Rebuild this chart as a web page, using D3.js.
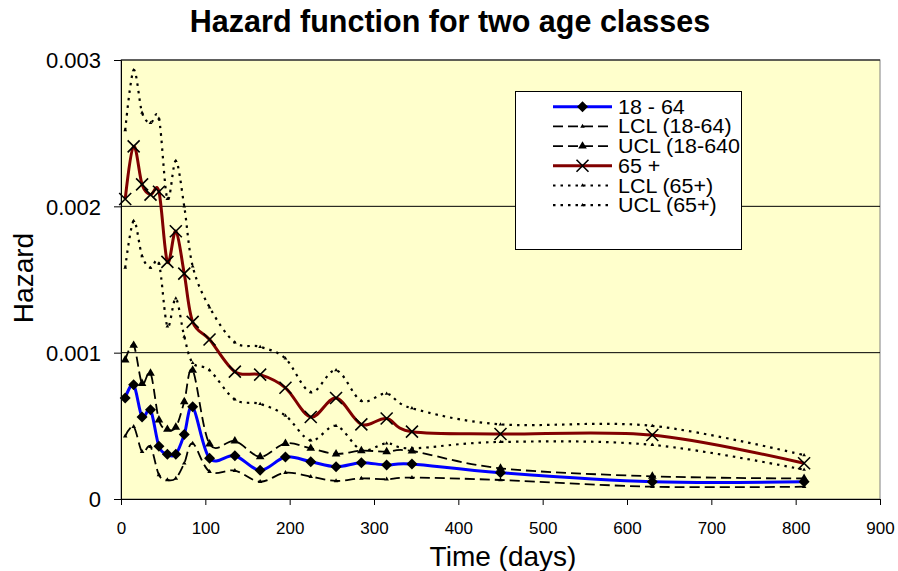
<!DOCTYPE html>
<html><head><meta charset="utf-8">
<script src="https://cdn.jsdelivr.net/npm/d3@7"></script>
<style>body{margin:0;background:#fff} text{font-family:Arial,"Liberation Sans",sans-serif;fill:#000}</style>
</head><body><svg id="c" width="898" height="571"></svg>
<script>
const days = [5,15,25,35,45,55,65,75,85,105,135,165,195,225,255,285,315,345,450,630,810];
const age1864 = [0.00069,0.00078,0.00056,0.00061,0.00036,0.000305,0.000305,0.00044,0.00063,0.000278,0.000296,0.000196,0.000287,0.000255,0.000221,0.000248,0.000232,0.000239,0.00018,0.000118,0.000118];
const lcl1864 = [0.00043,0.000494,0.000323,0.000357,0.000164,0.00013,0.000141,0.000244,0.00038,0.000187,0.000194,0.000118,0.00018,0.000153,0.000123,0.000141,0.000135,0.000146,0.00013,0.000084,0.000084];
const ucl1864 = [0.00095,0.00105,0.00079,0.00086,0.00054,0.000476,0.00049,0.000665,0.00088,0.000376,0.000396,0.000289,0.00038,0.000346,0.000308,0.00033,0.000323,0.000328,0.00021,0.000155,0.00014];
const age65 = [0.00205,0.00241,0.00215,0.00208,0.0021,0.00162,0.00183,0.00154,0.00121,0.00109,0.00087,0.00085,0.00076,0.00056,0.00069,0.00051,0.00055,0.00046,0.000444,0.000437,0.000244];
const lcl65 = [0.00158,0.0019,0.00166,0.00158,0.00161,0.00118,0.00137,0.00111,0.00093,0.00088,0.00068,0.00065,0.00057,0.0004,0.0005,0.000335,0.00038,0.000346,0.00039,0.00037,0.0002];
const ucl65 = [0.00252,0.00293,0.00264,0.00257,0.0026,0.00205,0.00231,0.002,0.00159,0.00131,0.00107,0.00104,0.00096,0.00073,0.00088,0.00067,0.00072,0.00062,0.00051,0.0005,0.0003];
const seriesNames = ["18 - 64","LCL (18-64)","UCL (18-640","65 +","LCL (65+)","UCL (65+)"];
const xTicks = [0,100,200,300,400,500,600,700,800,900];
const yTicks = [0,0.001,0.002,0.003];
const titleText = "Hazard function for two age classes";
const xLabel = "Time (days)";
const yLabel = "Hazard";

const svg = d3.select("#c");
const L=121, R=880, T=60, B=499;
const x = d3.scaleLinear().domain([0,900]).range([L,R]);
const y = d3.scaleLinear().domain([0,0.003]).range([B,T]);

svg.append("rect").attr("x",L).attr("y",T).attr("width",R-L).attr("height",B-T)
  .attr("fill","#FFFFCC").attr("stroke","#808080").attr("stroke-width",1);

// gridlines
svg.append("g").selectAll("line").data(yTicks.filter(d=>d>0)).join("line")
  .attr("x1",L).attr("x2",R).attr("y1",d=>y(d)).attr("y2",d=>y(d))
  .attr("stroke","#000").attr("stroke-width",1);

const yAxis = svg.append("g").attr("transform",`translate(${L},0)`)
  .call(d3.axisLeft(y).tickValues(yTicks).tickSize(7).tickPadding(13)
     .tickFormat(d=>d===0?"0":d3.format(".3f")(d)));
yAxis.selectAll("text").attr("font-size",22).attr("font-family","Arial, Liberation Sans").attr("dy","0.36em");
yAxis.selectAll("path,line").attr("stroke","#000");

const xAxis = svg.append("g").attr("transform",`translate(0,${B})`)
  .call(d3.axisBottom(x).tickValues(xTicks).tickSize(6).tickPadding(17).tickSizeOuter(0));
xAxis.selectAll("text").attr("font-size",17).attr("font-family","Arial, Liberation Sans");
xAxis.selectAll("path,line").attr("stroke","#000");

svg.append("text").attr("x",450).attr("y",32).attr("text-anchor","middle")
  .attr("font-size",30.5).attr("font-weight","bold").text(titleText);
svg.append("text").attr("x",503).attr("y",566).attr("text-anchor","middle")
  .attr("font-size",28).text(xLabel);
svg.append("text").attr("transform","translate(33,278) rotate(-90)").attr("text-anchor","middle")
  .attr("font-size",28).text(yLabel);

const curve = d3.curveCatmullRom.alpha(0);
const sym = (type,size)=>d3.symbol().type(type).size(size)();
const xPath = "M-6,-6L6,6M-6,6L6,-6";
const diamondPath = "M0,-5.5L5.5,0L0,5.5L-5.5,0Z";
const series = [
  {name:seriesNames[0], vals:age1864, color:"#0000FF", width:3, dash:null, marker:diamondPath, mfill:"#000", mstroke:"none"},
  {name:seriesNames[1], vals:lcl1864, color:"#000", width:1.8, dash:"10,5", marker:sym(d3.symbolTriangle,9), mfill:"#000", mstroke:"none"},
  {name:seriesNames[2], vals:ucl1864, color:"#000", width:1.8, dash:"10,5", marker:sym(d3.symbolTriangle,32), mfill:"#000", mstroke:"none"},
  {name:seriesNames[3], vals:age65, color:"#800000", width:3, dash:null, marker:xPath, mfill:"none", mstroke:"#000"},
  {name:seriesNames[4], vals:lcl65, color:"#000", width:2.2, dash:"2.5,5", marker:sym(d3.symbolTriangle,6), mfill:"#000", mstroke:"none"},
  {name:seriesNames[5], vals:ucl65, color:"#000", width:2.2, dash:"2.5,5", marker:sym(d3.symbolTriangle,6), mfill:"#000", mstroke:"none"}
];

const line = d3.line().x(d=>x(d[0])).y(d=>y(d[1])).curve(curve);
series.forEach(s=>{
  const pts = days.map((d,i)=>[d,s.vals[i]]);
  svg.append("path").attr("d",line(pts)).attr("fill","none").attr("stroke",s.color)
    .attr("stroke-width",s.width).attr("stroke-dasharray",s.dash);
  svg.append("g").selectAll("path").data(pts).join("path")
    .attr("transform",d=>`translate(${x(d[0])},${y(d[1])})`).attr("d",s.marker)
    .attr("fill",s.mfill).attr("stroke",s.mstroke).attr("stroke-width",1.6);
});

// legend
const lg = svg.append("g");
lg.append("rect").attr("x",515.5).attr("y",91.5).attr("width",226).attr("height",158)
  .attr("fill","#fff").attr("stroke","#000").attr("stroke-width",1);
series.forEach((s,i)=>{
  const yy = 106.7 + i*19.7;
  lg.append("line").attr("x1",553).attr("x2",612).attr("y1",yy).attr("y2",yy)
    .attr("stroke",s.color).attr("stroke-width",s.width).attr("stroke-dasharray",s.dash);
  lg.append("path").attr("transform",`translate(582.5,${yy})`).attr("d",s.marker)
    .attr("fill",s.mfill).attr("stroke",s.mstroke).attr("stroke-width",1.6);
  lg.append("text").attr("transform",`translate(618,${yy}) scale(1.1,1)`).attr("dy","0.36em")
    .attr("font-size",19.5).text(s.name);
});
</script></body></html>
